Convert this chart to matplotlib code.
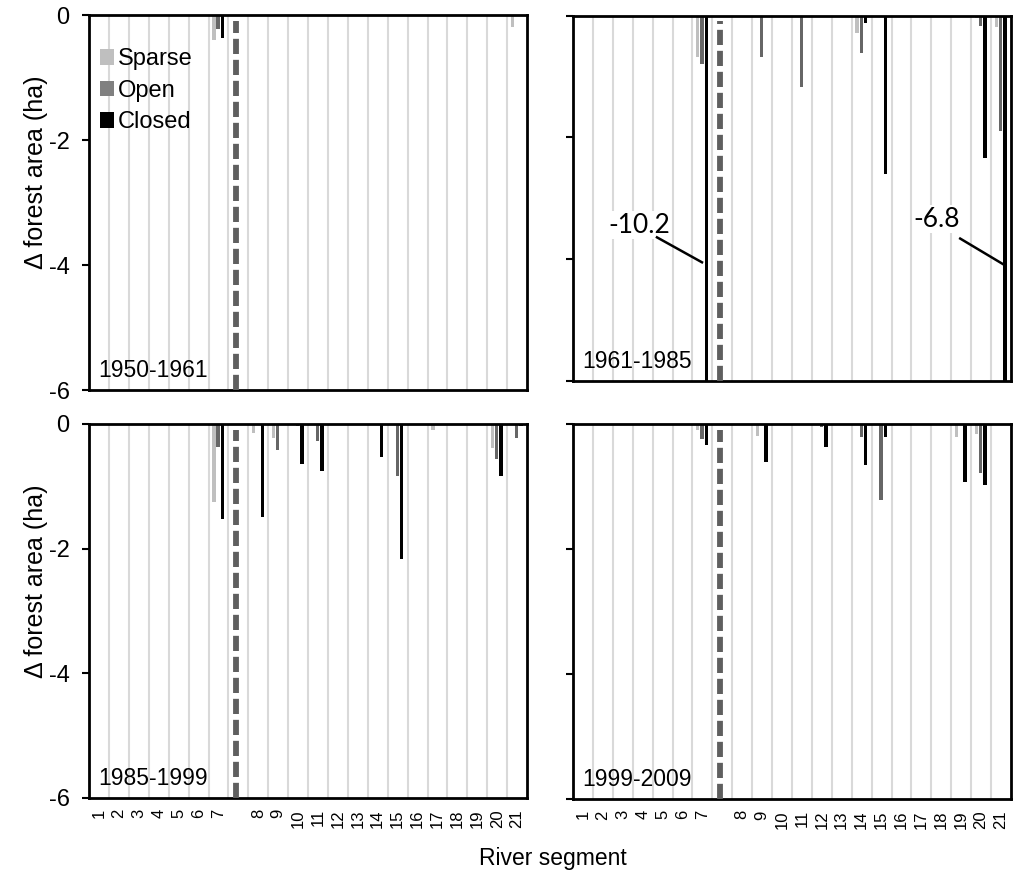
import numpy as np
import matplotlib
matplotlib.use("Agg")
import matplotlib.pyplot as plt
from matplotlib.patches import Patch

plt.rcParams["font.family"] = ["Liberation Sans", "DejaVu Sans"]

# river segments 1-21; a blank slot sits between segment 7 and 8 (dashed line)
segments = list(range(1, 22))
periods = ["1950-1961", "1961-1985", "1985-1999", "1999-2009"]
classes = ["Sparse", "Open", "Closed"]

# change in forest area (ha) per segment
sparse_1950 = [0, 0, 0, 0, 0, 0, -0.40,
               0, 0, 0, 0, 0, 0, 0,
               0, 0, 0, 0, 0, 0, -0.19]
open_1950 = [0, 0, 0, 0, 0, 0, -0.22,
             0, 0, 0, 0, 0, 0, 0,
             0, 0, 0, 0, 0, 0, 0]
closed_1950 = [0, 0, 0, 0, 0, 0, -0.37,
               0, 0, 0, 0, 0, 0, 0,
               0, 0, 0, 0, 0, 0, 0]

sparse_1961 = [0, 0, 0, 0, 0, 0, -0.68,
               0, 0, 0, 0, 0, 0, -0.28,
               0, 0, 0, 0, 0, -0.03, -0.19]
open_1961 = [0, 0, 0, 0, 0, 0, -0.80,
             0, -0.68, 0, -1.17, 0, 0, -0.61,
             0, 0, 0, 0, 0, -0.17, -1.90]
closed_1961 = [0, 0, 0, 0, 0, 0, -10.2,
               0, 0, 0, 0, 0, 0, -0.12,
               -2.60, 0, 0, 0, 0, -2.34, -6.8]

sparse_1985 = [0, 0, 0, 0, 0, 0, -1.26,
               -0.14, -0.23, 0, 0, 0, 0, 0,
               0, 0, -0.10, 0, 0, -0.38, 0]
open_1985 = [0, 0, 0, 0, 0, 0, -0.37,
             0, -0.42, -0.04, -0.27, 0, 0, 0,
             -0.84, 0, 0, 0, 0, -0.56, -0.22]
closed_1985 = [0, 0, 0, 0, 0, 0, -1.52,
               -1.50, 0, -0.65, -0.76, 0, 0, -0.53,
               -2.16, 0, 0, 0, 0, -0.83, -0.04]

sparse_1999 = [0, 0, 0, 0, 0, 0, -0.10,
               0, -0.19, 0, 0, 0, 0, 0,
               0, 0, 0, 0, -0.20, -0.16, 0]
open_1999 = [0, 0, 0, 0, 0, 0, -0.24,
             0, 0, 0, 0, -0.05, 0, -0.21,
             -1.21, 0, 0, 0, 0, -0.78, 0]
closed_1999 = [0, 0, 0, 0, 0, 0, -0.33,
               0, -0.60, 0, 0, -0.37, 0, -0.65,
               -0.20, 0, 0, 0, -0.92, -0.98, 0]

data = {
    "1950-1961": (sparse_1950, open_1950, closed_1950),
    "1961-1985": (sparse_1961, open_1961, closed_1961),
    "1985-1999": (sparse_1985, open_1985, closed_1985),
    "1999-2009": (sparse_1999, open_1999, closed_1999),
}

bar_colors = ["#bfbfbf", "#666666", "#000000"]
legend_colors = ["#bfbfbf", "#808080", "#000000"]
offsets = [-0.23, -0.02, 0.2]
bar_w = 0.17

# x position of each segment, leaving slot 7 empty
xpos = np.array([s - 1 if s <= 7 else s for s in segments])
gap_x = 7

fig = plt.figure(figsize=(10.13, 8.88), dpi=100)
rects = [
    [0.0879, 0.5608, 0.4324, 0.4223],
    [0.5656, 0.5709, 0.4324, 0.4114],
    [0.0879, 0.1014, 0.4324, 0.4212],
    [0.5656, 0.1002, 0.4324, 0.4223],
]

axes = []
for i, (period, rect) in enumerate(zip(periods, rects)):
    ax = fig.add_axes(rect)
    axes.append(ax)

    # light category separators
    for b in np.arange(0.5, 21.5, 1.0):
        ax.axvline(b, color="#d9d9d9", lw=1.5, zorder=0)

    for vals, off, c in zip(data[period], offsets, bar_colors):
        ax.bar(xpos + off, vals, width=bar_w, color=c, zorder=2)

    ax.axvline(gap_x - 0.1, ymin=0.0, ymax=0.985, color="#5f5f5f", lw=4.2,
               dashes=(2.6, 1.0), zorder=3)

    ax.set_xlim(-0.5, 21.5)
    ax.set_ylim(-6, 0)
    ax.set_yticks([0, -2, -4, -6])
    for sp in ax.spines.values():
        sp.set_linewidth(2.0)
        sp.set_color("black")
    ax.tick_params(axis="y", direction="out", length=5, width=1.5,
                   labelsize=17, pad=9)
    ax.tick_params(axis="x", length=0)

    if i % 2 == 0:
        ax.set_yticklabels(["0", "-2", "-4", "-6"])
        ax.set_ylabel("Δ forest area (ha)", fontsize=18)
        ax.yaxis.set_label_coords(-0.094, 0.58)
    else:
        ax.set_yticklabels([])

    if i >= 2:
        ax.set_xticks(xpos)
        ax.set_xticklabels([str(s) for s in segments], rotation=90,
                           fontsize=12)
        ax.tick_params(axis="x", pad=8)
    else:
        ax.set_xticks([])

    ax.text(0.022, 0.035, period, transform=ax.transAxes, fontsize=16.5,
            ha="left", va="baseline")

# legend in the first panel
handles = [Patch(facecolor=c, edgecolor="none") for c in legend_colors]
axes[0].legend(handles, classes, loc="upper left", bbox_to_anchor=(-0.012, 0.955),
               frameon=False, fontsize=17, handlelength=0.6, handleheight=0.62,
               handletextpad=0.15, labelspacing=0.4, borderaxespad=0.3)

# labels for bars running off the scale
ax = axes[1]
ax.text(2.82, -3.44, "-10.2", fontsize=19, family=["Lato", "DejaVu Sans"],
        ha="center", va="center",
        bbox=dict(facecolor="white", edgecolor="none", pad=1), zorder=4)
ax.plot([3.72, 5.98], [-3.64, -4.05], color="black", lw=1.8, zorder=4)
ax.text(17.79, -3.34, "-6.8", fontsize=19, family=["Lato", "DejaVu Sans"],
        ha="center", va="center",
        bbox=dict(facecolor="white", edgecolor="none", pad=1), zorder=4)
ax.plot([18.95, 21.1], [-3.66, -4.08], color="black", lw=1.8, zorder=4)

fig.text(553 / 1013, 1 - 858 / 888, "River segment", fontsize=16.5,
         ha="center", va="center")

fig.savefig("out.png", dpi=100)
